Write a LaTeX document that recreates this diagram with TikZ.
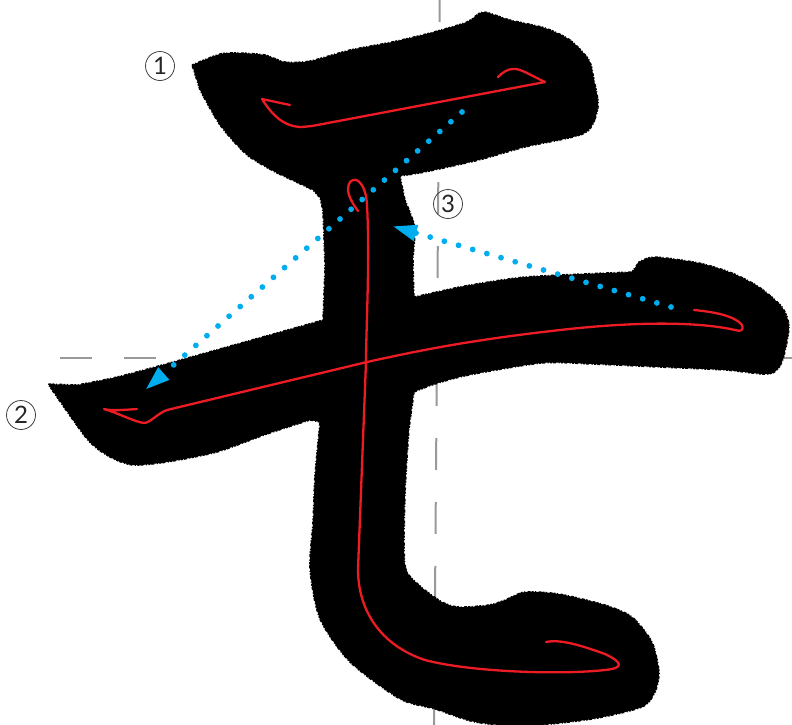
\documentclass[tikz,border=0pt]{standalone}
\usepackage{fontspec}
\setmainfont{Lato}
\usetikzlibrary{arrows.meta}
\definecolor{inkcol}{HTML}{000000}
\definecolor{guidecol}{HTML}{999999}
\definecolor{tracecol}{HTML}{ED1C24}
\definecolor{ordercol}{HTML}{00AEEF}
\begin{document}
\begin{tikzpicture}[x=1pt,y=-1pt,
        guide/.style={guidecol,line width=2pt,dash pattern=on 32pt off 32pt},
        glyph/.style={fill=inkcol,draw=inkcol,line width=1.5pt,line join=round,dash pattern=on 2pt off 1.5pt on 1pt off 2.5pt on 3pt off 1pt},
        trace/.style={tracecol,line width=2.3pt,line cap=round,line join=round},
        order/.style={-{Triangle[length=25pt,width=15pt]},ordercol,line width=5.8pt,line cap=round,dash pattern=on 0pt off 14.75pt},
        num/.style={circle,draw=black!75,line width=0.8pt,minimum size=29pt,inner sep=0pt,font=\fontsize{24}{24}\selectfont,text=black!85}]
        \useasboundingbox (0,0) rectangle (792,724);
        \fill[white] (0,0) rectangle (792,724);
        \coordinate (gt) at (439.8,-10);
        \coordinate (gb) at (434,726);
        \coordinate (gl) at (60,358);
        \coordinate (gr) at (796,358);
        \draw[guide] (gt) -- (gb);
        \draw[guide] (gl) -- (gr);
        \filldraw[glyph]
          plot[smooth,tension=0.45] coordinates {(192,65) (220,54) (240,53) (265,55) (285,62) (310,61) (350,50) (392,42) (430,33) (467,22) (483,12) (510,20) (545,28) (570,40) (589,60) (594,80) (598,107) (585,133) (525,147) (479,160) (425,172) (400,176)}
          -- plot[smooth,tension=0.3] coordinates {(405,200) (415,227) (413,260) (414,297)}
          -- plot[smooth,tension=0.45] coordinates {(459,287) (525,277) (632,272)}
          -- plot[smooth,tension=0.45] coordinates {(639,262) (655,257) (699,263) (732,273) (759,287) (782,307) (789,327) (782,362) (769,374) (725,370) (659,367) (592,364) (542,363) (469,375) (435,384) (414,392)}
          -- plot[smooth,tension=0.45] coordinates {(409,429) (405,495) (405,565) (419,585) (442,602) (459,607) (489,605) (505,600) (525,592) (559,594) (605,605) (632,617) (652,642) (659,672) (655,692) (642,707) (592,719) (525,726) (475,722) (435,709) (400,699) (350,662) (320,619) (310,569) (313,522) (315,475) (320,422)}
          -- plot[smooth,tension=0.45] coordinates {(310,420) (267,434) (217,452) (167,462) (133,465) (110,457) (87,439) (48,384)}
          -- plot[smooth,tension=0.45] coordinates {(77,385) (117,377) (173,362) (323,320)}
          -- plot[smooth,tension=0.2] coordinates {(325,267) (323,213) (320,198) (313,190)}
          -- plot[smooth,tension=0.45] coordinates {(277,173) (247,155) (220,125) (200,90)} -- cycle;
        \draw[trace] (290,105) -- (262,99) .. controls (272,115) and (284,127) .. (302,127) -- (312,126) -- (545,82) .. controls (530,75) and (520,68) .. (513,69) .. controls (508,69) and (503,72) .. (498,77);
        \draw[trace] (358,211) .. controls (350,200) and (345,190) .. (350,182) .. controls (357,175) and (366,185) .. (367,205) .. controls (370,260) and (366,330) .. (366,362) -- (358,569) .. controls (358,610) and (380,645) .. (425,660) .. controls (470,672) and (560,675) .. (605,670) .. controls (625,668) and (622,662) .. (605,654) .. controls (580,645) and (560,639) .. (546,642);
        \draw[trace] (694,310) .. controls (715,312) and (735,316) .. (742,325) .. controls (744,330) and (741,332) .. (735,330) .. controls (700,322) and (640,321) .. (560,330) .. controls (480,339) and (430,348) .. (367,362) -- (167,410) .. controls (158,413) and (150,423) .. (144,423) .. controls (135,422) and (118,413) .. (104,409) .. controls (112,411) and (122,410) .. (137,409);
        \coordinate (a1) at (462,112);
        \coordinate (b1) at (145,390);
        \coordinate (a2) at (671,307);
        \coordinate (b2) at (392,226);
        \draw[order] (a1) -- (b1);
        \draw[order] (a2) -- (b2);
        \node[num] (n1) at (160,66) {1};
        \node[num] (n2) at (21,415) {2};
        \node[num] (n3) at (448,204) {3};
      \end{tikzpicture}
\end{document}
